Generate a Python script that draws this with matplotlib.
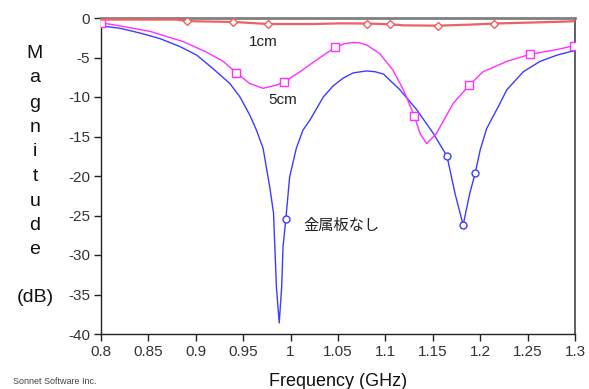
import matplotlib
matplotlib.use("Agg")
import matplotlib.pyplot as plt

plt.rcParams['font.family'] = ['Liberation Sans', 'Noto Sans CJK JP', 'DejaVu Sans']

# --- data ---
blue_freq = [0.800, 0.820, 0.841, 0.862, 0.883, 0.901, 0.918, 0.936, 0.9466, 0.957,
             0.964, 0.971, 0.978, 0.982, 0.985, 0.988, 0.9906, 0.992, 0.995, 0.999,
             1.006, 1.013, 1.0205, 1.0345, 1.0448, 1.0556, 1.066, 1.080, 1.089, 1.098,
             1.1154, 1.133, 1.1505, 1.165, 1.1734, 1.182, 1.189, 1.1948, 1.200, 1.2068,
             1.2209, 1.228, 1.2455, 1.263, 1.281, 1.300]
blue_mag = [-1.0, -1.3, -1.9, -2.6, -3.6, -4.7, -6.4, -8.3, -10.0, -12.3,
            -14.2, -16.5, -21.4, -24.7, -34.0, -38.6, -34.0, -29.0, -25.4, -20.1,
            -16.5, -14.2, -12.9, -10.0, -8.6, -7.6, -6.95, -6.7, -6.8, -7.1,
            -9.1, -11.6, -14.6, -17.5, -22.2, -26.2, -22.2, -19.6, -16.7, -14.0,
            -10.8, -9.1, -6.8, -5.5, -4.7, -4.1]
blue_marks = [18, 33, 35, 37]

mag_freq = [0.800, 0.820, 0.852, 0.887, 0.911, 0.929, 0.9424, 0.957, 0.971, 0.985,
            0.993, 1.010, 1.0275, 1.047, 1.057, 1.066, 1.073, 1.080, 1.094, 1.108,
            1.119, 1.1305, 1.1365, 1.1435, 1.154, 1.1576, 1.1716, 1.1885, 1.203, 1.228,
            1.2525, 1.281, 1.299]
mag_mag = [-0.6, -1.0, -1.7, -3.0, -4.3, -5.5, -6.9, -8.3, -8.9, -8.5,
           -8.1, -6.8, -5.3, -3.7, -3.25, -3.1, -3.15, -3.4, -4.5, -6.6,
           -9.1, -12.4, -14.6, -15.9, -14.6, -13.8, -10.8, -8.5, -6.8, -5.5,
           -4.6, -4.0, -3.5]
mag_marks = [0, 6, 10, 13, 21, 27, 30, 32]

red_freq = [0.800, 0.880, 0.891, 0.9396, 0.9765, 1.024, 1.052, 1.081, 1.105, 1.119,
            1.155, 1.189, 1.215, 1.288, 1.300]
red_mag = [-0.2, -0.2, -0.4, -0.5, -0.76, -0.76, -0.68, -0.7, -0.8, -0.93,
           -0.97, -0.84, -0.7, -0.46, -0.4]
red_marks = [2, 3, 4, 7, 8, 10, 12]

x_ticks = [0.8, 0.85, 0.9, 0.95, 1.0, 1.05, 1.1, 1.15, 1.2, 1.25, 1.3]
x_tick_labels = ['0.8', '0.85', '0.9', '0.95', '1', '1.05', '1.1', '1.15', '1.2', '1.25', '1.3']
y_ticks = [0, -5, -10, -15, -20, -25, -30, -35, -40]
y_tick_labels = ['0', '-5', '-10', '-15', '-20', '-25', '-30', '-35', '-40']

fig = plt.figure(figsize=(5.89, 3.89), dpi=100)
ax = fig.add_axes([101/589, 1-334/389, 474/589, 316/389])

ax.plot(blue_freq, blue_mag, color='#3c3cff', lw=1.0, marker='o', markevery=blue_marks,
        ms=5, mfc='white', mec='#3c3cff', mew=1.0, zorder=3)
ax.plot(mag_freq, mag_mag, color='#ff30ff', lw=1.0, marker='s', markevery=mag_marks,
        ms=6, mfc='white', mec='#ff30ff', mew=1.0, zorder=4)
ax.plot(red_freq, red_mag, color='#f06060', lw=1.6, marker='D', markevery=red_marks,
        ms=4, mfc='white', mec='#f06060', mew=1.0, zorder=5)

ax.set_xlim(0.8, 1.3)
ax.set_ylim(-40, 0)
ax.set_xticks(x_ticks)
ax.set_xticklabels(x_tick_labels)
ax.set_yticks(y_ticks)
ax.set_yticklabels(y_tick_labels)
ax.tick_params(direction='out', length=5, width=1, labelsize=11, labelcolor='#333333',
               color='#222222', pad=3)

for s in ['left', 'bottom']:
    ax.spines[s].set_color('#222222')
    ax.spines[s].set_linewidth(1.0)
ax.spines['right'].set_color('#444444')
ax.spines['right'].set_linewidth(1.2)
ax.spines['top'].set_color('#808080')
ax.spines['top'].set_linewidth(2.0)

ax.text(0.971, -3.0, '1cm', fontsize=11, ha='center', va='center', color='#222222')
ax.text(0.992, -10.4, '5cm', fontsize=11, ha='center', va='center', color='#222222')
ax.text(1.013, -26.2, '金属板なし', fontsize=11, ha='left', va='center', color='#222222',
        family=['Noto Sans CJK JP', 'DejaVu Sans'])

# stacked y label
letters = ['M', 'a', 'g', 'n', 'i', 't', 'u', 'd', 'e']
ys = [53, 78, 103, 128, 152, 177, 202, 225, 250]
for ch, yp in zip(letters, ys):
    fig.text(35/589, 1-yp/389, ch, fontsize=14, ha='center', va='center', color='#111111')
fig.text(35/589, 1-298/389, '(dB)', fontsize=14, ha='center', va='center', color='#111111')

fig.text(338/589, 1-381/389, 'Frequency (GHz)', fontsize=13, ha='center', va='center',
         color='#111111')
fig.text(13/589, 1-381/389, 'Sonnet Software Inc.', fontsize=6.5, ha='left', va='center',
         color='#444444')

fig.savefig('out.png', dpi=100)
